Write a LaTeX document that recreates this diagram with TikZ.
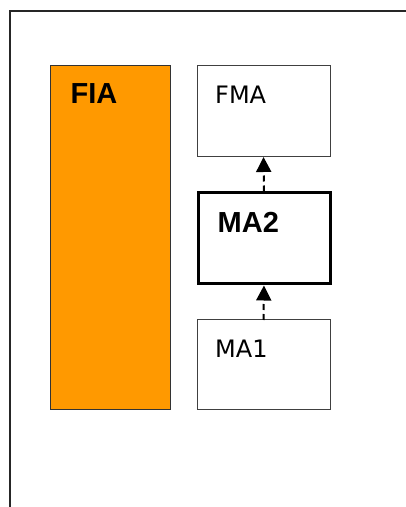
\documentclass[tikz,border=0pt]{standalone}
\usepackage{fontspec}
\setmainfont{Liberation Sans}
\newfontfamily\regfont{DejaVu Sans}
\usetikzlibrary{arrows.meta}
\definecolor{fiaorange}{HTML}{FF9900}
\definecolor{boxline}{HTML}{404040}
\begin{document}
\begin{tikzpicture}[x=1pt,y=1pt,
  box/.style={draw=boxline,line width=1pt,minimum width=133pt,minimum height=91pt,inner sep=0pt,outer sep=0pt},
  bigtext/.style={anchor=base west,inner sep=0pt,font=\fontsize{29}{31}\selectfont\bfseries},
  smalltext/.style={anchor=base west,inner sep=0pt,font=\regfont\fontsize{24}{27}\selectfont},
  dasharrow/.style={line width=2pt,dash pattern=on 6pt off 4pt,-{Triangle[width=15pt,length=15pt]}}]
\useasboundingbox (0,0) rectangle (406,507);
% frame
\draw[line width=1.3pt,draw=black!85] (406,496) -- (10,496) -- (10,0);
% boxes
\node[box,fill=fiaorange,draw=black!80,minimum width=120pt,minimum height=344pt] (FIA) at (110,269) {};
\node[box] (FMA) at (263.5,395.5) {};
\node[box,draw=black,line width=3pt,minimum width=132pt] (MA2) at (264,268.5) {};
\node[box,minimum height=90pt] (MA1) at (263.5,142) {};
% labels
\node[bigtext] (tFIA) at (70.5,403) {FIA};
\node[bigtext] (tMA2) at (217.5,274.5) {MA2};
\node[smalltext] (tFMA) at (215,403) {FMA};
\node[smalltext] (tMA1) at (215,149.5) {MA1};
% arrows
\draw[dasharrow,shorten >=1.5pt] (MA1.north) -- (MA2.south);
\draw[dasharrow,shorten <=1.5pt] (MA2.north) -- (FMA.south);
\end{tikzpicture}
\end{document}
